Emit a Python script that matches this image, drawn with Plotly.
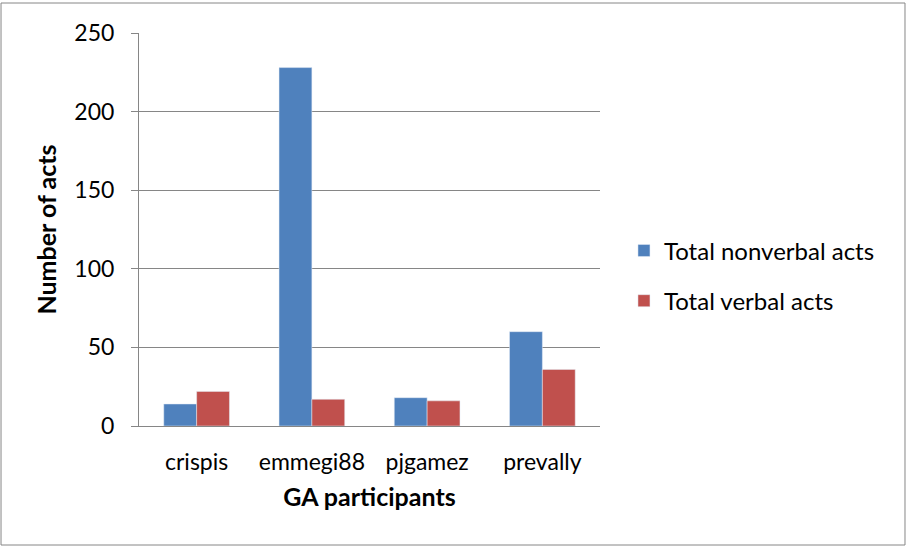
import plotly.graph_objects as go

participants = ["crispis", "emmegi88", "pjgamez", "prevally"]
nonverbal = [14, 228, 18, 60]
verbal = [22, 17, 16, 36]
y_ticks = [0, 50, 100, 150, 200, 250]

FONT = "Lato, Calibri, 'Noto Sans', sans-serif"

fig = go.Figure()
fig.add_trace(go.Bar(name="Total nonverbal acts", x=participants, y=nonverbal,
                     marker_color="#4F81BD", legendgroup="a"))
fig.add_trace(go.Bar(name="Total verbal acts", x=participants, y=verbal,
                     marker_color="#C0504D", legendgroup="b"))

fig.update_layout(
    width=907, height=548,
    margin=dict(l=139, r=307, t=33, b=122),
    paper_bgcolor="white", plot_bgcolor="white",
    barmode="group", bargap=0.43, bargroupgap=0,
    font=dict(family=FONT, color="black"),
    legend=dict(x=1.052, y=0.382, xanchor="left", yanchor="middle",
                font=dict(size=24), tracegroupgap=16, traceorder="grouped",
                itemwidth=30),
    showlegend=True,
)
fig.update_yaxes(
    range=[0, 250], tickvals=y_ticks, showgrid=True, gridcolor="#868686", gridwidth=1,
    showline=True, linecolor="#868686", ticks="outside", ticklen=7, tickcolor="#868686",
    tickfont=dict(size=23), zeroline=False, ticklabelstandoff=12,
    title=dict(text="<b>Number of acts</b>", font=dict(size=25), standoff=10),
)
fig.update_xaxes(
    showline=True, linecolor="#868686", tickfont=dict(size=23), ticks="",
    ticklabelstandoff=15,
    title=dict(text="<b>GA participants</b>", font=dict(size=25), standoff=14),
)
fig.add_shape(type="rect", xref="paper", yref="paper",
              x0=-0.2993, x1=1.6616, y0=-0.3028, y1=1.0763,
              line=dict(color="#868686", width=1))

fig.write_html("out.html", config={"displayModeBar": False},
               post_script="document.body.style.margin='0';")
